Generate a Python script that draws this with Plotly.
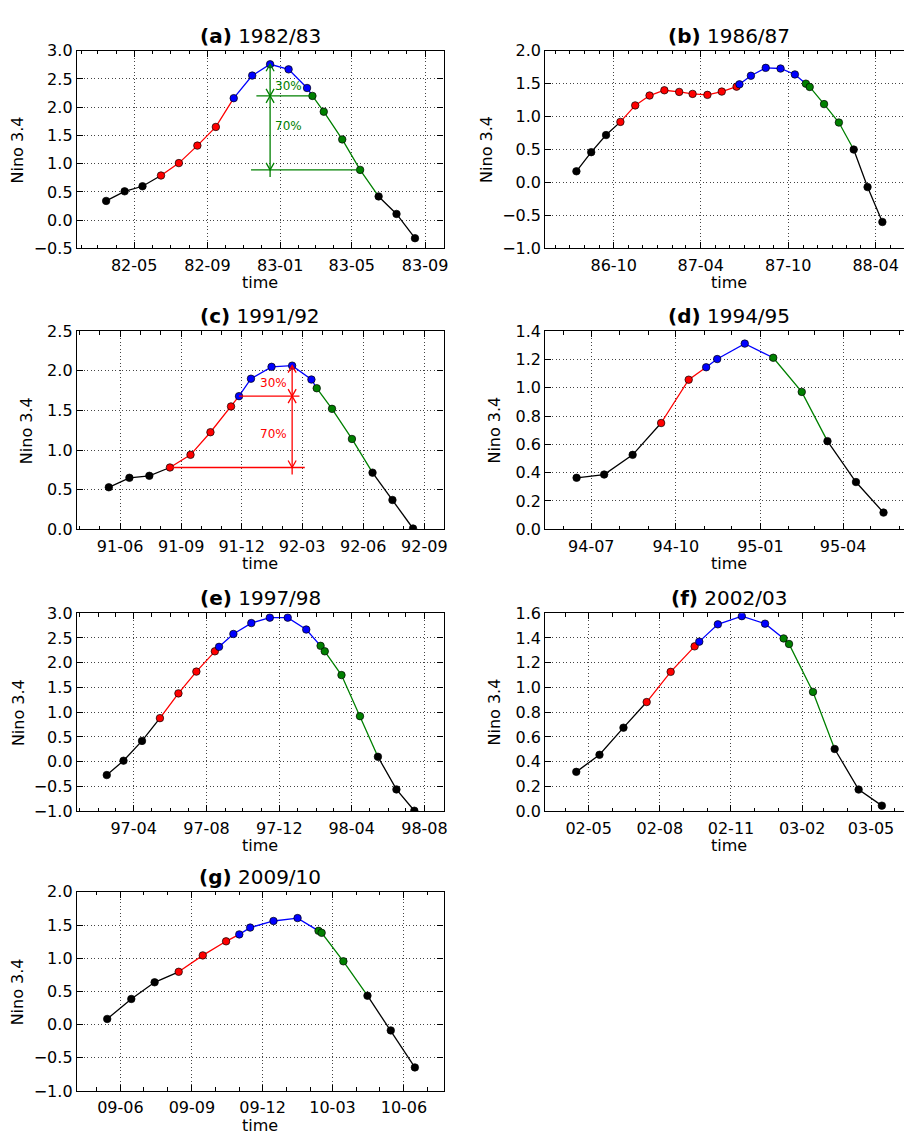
import plotly.graph_objects as go

W, H = 912, 1138
OFF = 8  # the page places the figure 8 px from the top-left corner
FONT = "DejaVu Sans"
COLORS = {"k": "#000000", "r": "#ff0000", "b": "#0000ff", "g": "#008000"}

# ---------------- data ----------------
# (a) 1982/83
a_dates = ["1982-03-15", "1982-04-15", "1982-05-15", "1982-06-15", "1982-07-15", "1982-08-15",
           "1982-09-15", "1982-10-15", "1982-11-15", "1982-12-15", "1983-01-15", "1983-02-15",
           "1983-02-24", "1983-03-15", "1983-04-15", "1983-05-15", "1983-06-15", "1983-07-15",
           "1983-08-15"]
a_vals = [0.34, 0.51, 0.60, 0.79, 1.01, 1.32, 1.65, 2.16, 2.56, 2.76, 2.67, 2.34,
          2.20, 1.92, 1.43, 0.89, 0.42, 0.11, -0.32]
a_cols = "kkkrrrrbbbbbggggkkk"
a_xticks = ["1982-05-01", "1982-09-01", "1983-01-01", "1983-05-01", "1983-09-01"]
a_xlabels = ["82-05", "82-09", "83-01", "83-05", "83-09"]
a_yticks = [-0.5, 0.0, 0.5, 1.0, 1.5, 2.0, 2.5, 3.0]

# (b) 1986/87
b_dates = ["1986-07-15", "1986-08-15", "1986-09-15", "1986-10-15", "1986-11-15", "1986-12-15",
           "1987-01-15", "1987-02-15", "1987-03-15", "1987-04-15", "1987-05-15", "1987-06-15",
           "1987-06-21", "1987-07-15", "1987-08-15", "1987-09-15", "1987-10-15", "1987-11-07",
           "1987-11-15", "1987-12-15", "1988-01-15", "1988-02-15", "1988-03-15", "1988-04-15"]
b_vals = [0.17, 0.46, 0.72, 0.92, 1.17, 1.32, 1.40, 1.375, 1.345, 1.33, 1.38, 1.455,
          1.49, 1.62, 1.74, 1.73, 1.64, 1.50, 1.45, 1.19, 0.91, 0.50, -0.07, -0.60]
b_cols = "kkkrrrrrrrrrbbbbbggggkkk"
b_xticks = ["1986-10-01", "1987-04-01", "1987-10-01", "1988-04-01"]
b_xlabels = ["86-10", "87-04", "87-10", "88-04"]
b_yticks = [-1.0, -0.5, 0.0, 0.5, 1.0, 1.5, 2.0]

# (c) 1991/92
c_dates = ["1991-05-15", "1991-06-15", "1991-07-15", "1991-08-15", "1991-09-15", "1991-10-15",
           "1991-11-15", "1991-11-27", "1991-12-15", "1992-01-15", "1992-02-15", "1992-03-15",
           "1992-03-23", "1992-04-15", "1992-05-15", "1992-06-15", "1992-07-15", "1992-08-15"]
c_vals = [0.53, 0.65, 0.675, 0.78, 0.94, 1.225, 1.55, 1.68, 1.90, 2.05, 2.065, 1.89,
          1.78, 1.52, 1.14, 0.715, 0.37, 0.01]
c_cols = "kkkrrrrbbbbbgggkkk"
c_xticks = ["1991-06-01", "1991-09-01", "1991-12-01", "1992-03-01", "1992-06-01", "1992-09-01"]
c_xlabels = ["91-06", "91-09", "91-12", "92-03", "92-06", "92-09"]
c_yticks = [0.0, 0.5, 1.0, 1.5, 2.0, 2.5]

# (d) 1994/95
d_dates = ["1994-06-15", "1994-07-15", "1994-08-15", "1994-09-15", "1994-10-15", "1994-11-03",
           "1994-11-15", "1994-12-15", "1995-01-15", "1995-02-15", "1995-03-15", "1995-04-15",
           "1995-05-15"]
d_vals = [0.364, 0.387, 0.526, 0.751, 1.057, 1.145, 1.203, 1.312, 1.212, 0.971, 0.623, 0.334, 0.118]
d_cols = "kkkrrbbbggkkk"
d_xticks = ["1994-07-01", "1994-10-01", "1995-01-01", "1995-04-01"]
d_xlabels = ["94-07", "94-10", "95-01", "95-04"]
d_yticks = [0.0, 0.2, 0.4, 0.6, 0.8, 1.0, 1.2, 1.4]

# (e) 1997/98
e_dates = ["1997-02-15", "1997-03-15", "1997-04-15", "1997-05-15", "1997-06-15", "1997-07-15",
           "1997-08-15", "1997-08-22", "1997-09-15", "1997-10-15", "1997-11-15", "1997-12-15",
           "1998-01-15", "1998-02-08", "1998-02-15", "1998-03-15", "1998-04-15", "1998-05-15",
           "1998-06-15", "1998-07-15"]
e_vals = [-0.27, 0.02, 0.42, 0.88, 1.38, 1.82, 2.23, 2.32, 2.58, 2.80, 2.91, 2.91,
          2.67, 2.34, 2.23, 1.75, 0.92, 0.10, -0.56, -0.99]
e_cols = "kkkrrrrbbbbbbggggkkk"
e_xticks = ["1997-04-01", "1997-08-01", "1997-12-01", "1998-04-01", "1998-08-01"]
e_xlabels = ["97-04", "97-08", "97-12", "98-04", "98-08"]
e_yticks = [-1.0, -0.5, 0.0, 0.5, 1.0, 1.5, 2.0, 2.5, 3.0]

# (f) 2002/03
f_dates = ["2002-04-15", "2002-05-15", "2002-06-15", "2002-07-15", "2002-08-15", "2002-09-15",
           "2002-09-21", "2002-10-15", "2002-11-15", "2002-12-15", "2003-01-08", "2003-01-15",
           "2003-02-15", "2003-03-15", "2003-04-15", "2003-05-15"]
f_vals = [0.318, 0.456, 0.675, 0.882, 1.126, 1.332, 1.37, 1.51, 1.576, 1.515, 1.396, 1.351,
          0.964, 0.503, 0.175, 0.045]
f_cols = "kkkrrrbbbbgggkkk"
f_xticks = ["2002-05-01", "2002-08-01", "2002-11-01", "2003-02-01", "2003-05-01"]
f_xlabels = ["02-05", "02-08", "02-11", "03-02", "03-05"]
f_yticks = [0.0, 0.2, 0.4, 0.6, 0.8, 1.0, 1.2, 1.4, 1.6]

# (g) 2009/10
g_dates = ["2009-05-15", "2009-06-15", "2009-07-15", "2009-08-15", "2009-09-15", "2009-10-15",
           "2009-11-01", "2009-11-15", "2009-12-15", "2010-01-15", "2010-02-11", "2010-02-15",
           "2010-03-15", "2010-04-15", "2010-05-15", "2010-06-15"]
g_vals = [0.086, 0.387, 0.638, 0.796, 1.043, 1.255, 1.359, 1.462, 1.561, 1.605, 1.413, 1.383,
          0.954, 0.436, -0.087, -0.644]
g_cols = "kkkrrrbbbbgggkkk"
g_xticks = ["2009-06-01", "2009-09-01", "2009-12-01", "2010-03-01", "2010-06-01"]
g_xlabels = ["09-06", "09-09", "09-12", "10-03", "10-06"]
g_yticks = [-1.0, -0.5, 0.0, 0.5, 1.0, 1.5, 2.0]

# percentage annotations (a) and (c)
a_note = dict(color="#008000", mid=12, low=15,
              mid_line=("1982-11-22", a_dates[12]), low_line=("1982-11-13", a_dates[15]),
              side="right", y30=2.38, y70=1.67)
c_note = dict(color="#ff0000", mid=7, low=3,
              mid_line=(c_dates[7], "1992-02-26"), low_line=(c_dates[3], "1992-03-05"),
              side="left", y30=1.84, y70=1.20)

panels = [
    dict(key="a", title="1982/83", d=a_dates, v=a_vals, c=a_cols, xt=a_xticks, xl=a_xlabels, yt=a_yticks,
         xr=["1982-01-25", "1983-10-02"], row=0, col=0, note=a_note),
    dict(key="b", title="1986/87", d=b_dates, v=b_vals, c=b_cols, xt=b_xticks, xl=b_xlabels, yt=b_yticks,
         xr=["1986-05-11", "1988-06-16"], row=0, col=1, note=None),
    dict(key="c", title="1991/92", d=c_dates, v=c_vals, c=c_cols, xt=c_xticks, xl=c_xlabels, yt=c_yticks,
         xr=["1991-03-28", "1992-09-30"], row=1, col=0, note=c_note),
    dict(key="d", title="1994/95", d=d_dates, v=d_vals, c=d_cols, xt=d_xticks, xl=d_xlabels, yt=d_yticks,
         xr=["1994-05-12", "1995-06-15"], row=1, col=1, note=None),
    dict(key="e", title="1997/98", d=e_dates, v=e_vals, c=e_cols, xt=e_xticks, xl=e_xlabels, yt=e_yticks,
         xr=["1996-12-27", "1998-09-02"], row=2, col=0, note=None),
    dict(key="f", title="2002/03", d=f_dates, v=f_vals, c=f_cols, xt=f_xticks, xl=f_xlabels, yt=f_yticks,
         xr=["2002-03-06", "2003-06-23"], row=2, col=1, note=None),
    dict(key="g", title="2009/10", d=g_dates, v=g_vals, c=g_cols, xt=g_xticks, xl=g_xlabels, yt=g_yticks,
         xr=["2009-04-06", "2010-07-22"], row=3, col=0, note=None),
]

# axes boxes in window pixels (left, right) / (top, bottom)
COL_PX = [(77.3, 446.0), (548.3, 917.0)]
COL_CENTER = [261.7, 732.5]
ROW_PX = [(42.3, 243.3), (327.5, 529.0), (614.3, 815.7), (897.7, 1100.3)]


def fx(px):
    return (px - OFF) / W


def fy(py):
    return 1 - (py - OFF) / H


def fmt(t):
    return f"{t:.1f}".replace("-", "\u2212")


fig = go.Figure()
layout_axes = {}
shapes = []
annotations = []
tickfont = dict(family=FONT, size=16, color="black")

for n, p in enumerate(panels, start=1):
    xa = "x" if n == 1 else f"x{n}"
    ya = "y" if n == 1 else f"y{n}"
    xkey = "xaxis" if n == 1 else f"xaxis{n}"
    ykey = "yaxis" if n == 1 else f"yaxis{n}"
    d, v, c = p["d"], p["v"], p["c"]

    # coloured line runs (segment i -> i+1 takes the colour of point i)
    s = 0
    while s < len(v):
        e = s
        while e + 1 < len(v) and c[e + 1] == c[s]:
            e += 1
        end = min(e + 2, len(v))
        fig.add_trace(go.Scatter(x=d[s:end], y=v[s:end], mode="lines",
                                 line=dict(color=COLORS[c[s]], width=1.3),
                                 xaxis=xa, yaxis=ya, hoverinfo="skip", showlegend=False))
        s = e + 1
    fig.add_trace(go.Scatter(x=d, y=v, mode="markers",
                             marker=dict(size=7.5, color=[COLORS[ch] for ch in c],
                                         line=dict(color="black", width=0.7)),
                             xaxis=xa, yaxis=ya, showlegend=False))

    cx0, cx1 = COL_PX[p["col"]]
    ry0, ry1 = ROW_PX[p["row"]]
    yr = [p["yt"][0], p["yt"][-1]]
    common = dict(showline=True, linecolor="black", linewidth=1.3,
                  ticks="inside", ticklen=6, tickwidth=1, tickcolor="black",
                  showgrid=True, gridcolor="#444444", gridwidth=1, griddash="1px,2.5px",
                  zeroline=False, tickfont=tickfont, fixedrange=True, mirror="ticks")
    layout_axes[xkey] = dict(common, domain=[fx(cx0), fx(cx1)], anchor=ya, type="date",
                             range=p["xr"], tickmode="array", tickvals=p["xt"], ticktext=p["xl"],
                             ticklabelstandoff=2,
                             minor=dict(ticks="inside", ticklen=3.5, tickwidth=1, tickcolor="black",
                                        dtick="M1", tick0="1980-01-01", showgrid=False))
    layout_axes[ykey] = dict(common, domain=[fy(ry1), fy(ry0)], anchor=xa,
                             range=yr, tickmode="array", tickvals=p["yt"],
                             ticktext=[fmt(t) for t in p["yt"]])

    cxc = COL_CENTER[p["col"]]
    annotations.append(dict(text=f"<b>({p['key']})</b> {p['title']}", x=fx(cxc), y=fy(ry0),
                            xref="paper", yref="paper", xanchor="center", yanchor="middle",
                            yshift=15, showarrow=False,
                            font=dict(family=FONT, size=20, color="black")))
    annotations.append(dict(text="time", x=fx(cxc), y=fy(ry1), xref="paper", yref="paper",
                            xanchor="center", yanchor="middle", yshift=-34, showarrow=False,
                            font=dict(family=FONT, size=16, color="black")))
    off = 59 if min(p["yt"]) < 0 else 51
    annotations.append(dict(text="Nino 3.4", x=fx(cx0), y=fy((ry0 + ry1) / 2),
                            xref="paper", yref="paper", xanchor="center", yanchor="middle",
                            xshift=-off, textangle=-90, showarrow=False,
                            font=dict(family=FONT, size=16, color="black")))

    note = p["note"]
    if note:
        col = note["color"]
        ip = max(range(len(v)), key=lambda i: v[i])
        px_, peak = d[ip], v[ip]
        mid, low = v[note["mid"]], v[note["low"]]
        ln = dict(color=col, width=1.3)
        shapes.append(dict(type="line", xref=xa, yref=ya, x0=px_, x1=px_, y0=peak, y1=low, line=ln))
        shapes.append(dict(type="line", xref=xa, yref=ya, x0=px_, x1=px_, ysizemode="pixel",
                           yanchor=low, y0=0, y1=-7, line=ln))
        shapes.append(dict(type="line", xref=xa, yref=ya, x0=note["mid_line"][0], x1=note["mid_line"][1],
                           y0=mid, y1=mid, line=ln))
        shapes.append(dict(type="line", xref=xa, yref=ya, x0=note["low_line"][0], x1=note["low_line"][1],
                           y0=low, y1=low, line=ln))
        up = "M-4,-7 L0,0 L4,-7"
        down = "M-4,7 L0,0 L4,7"
        for lvl, path in [(peak, up), (mid, down), (mid, up), (low, down)]:
            shapes.append(dict(type="path", xref=xa, yref=ya, xsizemode="pixel", ysizemode="pixel",
                               xanchor=px_, yanchor=lvl, path=path, line=ln))
        for txt, yy in [("30%", note["y30"]), ("70%", note["y70"])]:
            annotations.append(dict(text=txt, x=px_, y=yy, xref=xa, yref=ya,
                                    xanchor="left" if note["side"] == "right" else "right",
                                    xshift=3 if note["side"] == "right" else -3,
                                    yanchor="middle", showarrow=False,
                                    font=dict(family=FONT, size=12, color=col)))

fig.update_layout(width=W, height=H, margin=dict(l=0, r=0, t=0, b=0),
                  paper_bgcolor="white", plot_bgcolor="white", showlegend=False,
                  shapes=shapes, annotations=annotations, **layout_axes)

fig.write_html("out.html")
